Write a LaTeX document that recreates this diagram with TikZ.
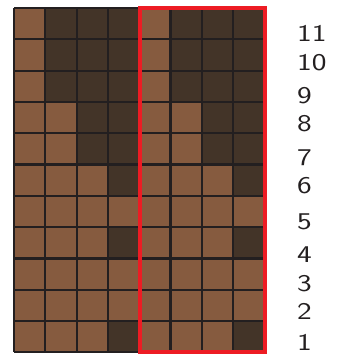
\documentclass[tikz,border=0pt]{standalone}
\begin{document}
\begin{tikzpicture}[x=1pt,y=-1pt,
  cellL/.style={fill=lightb},
  cellD/.style={fill=darkb},
  gridline/.style={draw=gridc,line width=2.2pt},
  redbox/.style={draw=redc,line width=4pt},
  lab/.style={font=\fontsize{24}{24}\selectfont\sffamily,anchor=west,inner sep=0pt,text=gridc}]
\definecolor{lightb}{HTML}{865B3F}
\definecolor{darkb}{HTML}{433428}
\definecolor{gridc}{HTML}{231F20}
\definecolor{redc}{HTML}{ED1C24}
\useasboundingbox (0,0) rectangle (344,356);
\def\cw{31.3}
\def\ch{31.3}
\foreach \r/\n in {0/1,1/1,2/1,3/2,4/2,5/3,6/4,7/3,8/4,9/4,10/3}{
  \foreach \c in {0,...,7}{
    \pgfmathtruncatemacro{\cc}{mod(\c,4)}
    \ifnum\cc<\n
      \path[cellL] ({14+\c*\cw},{8+\r*\ch}) rectangle ++(\cw,\ch);
    \else
      \path[cellD] ({14+\c*\cw},{8+\r*\ch}) rectangle ++(\cw,\ch);
    \fi
  }
}
\foreach \c in {0,...,8}{
  \draw[gridline] ({14+\c*\cw},8) -- ({14+\c*\cw},{8+11*\ch});
}
\foreach \r in {0,...,11}{
  \draw[gridline] (14,{8+\r*\ch}) -- ({14+8*\cw},{8+\r*\ch});
}
\draw[redbox] (139.5,8) rectangle (265,352);
\newcommand\wlab[1]{\scalebox{1.3}[1]{#1}}
\node[lab] (l11) at (297,33) {\wlab{11}};
\node[lab] (l10) at (297,63) {\wlab{10}};
\node[lab] (l9) at (297,96) {\wlab{9}};
\node[lab] (l8) at (297,124) {\wlab{8}};
\node[lab] (l7) at (297,158) {\wlab{7}};
\node[lab] (l6) at (297,186) {\wlab{6}};
\node[lab] (l5) at (297,222) {\wlab{5}};
\node[lab] (l4) at (297,255) {\wlab{4}};
\node[lab] (l3) at (297,284) {\wlab{3}};
\node[lab] (l2) at (297,311) {\wlab{2}};
\node[lab] (l1) at (297,342) {\wlab{1}};
\end{tikzpicture}
\end{document}
